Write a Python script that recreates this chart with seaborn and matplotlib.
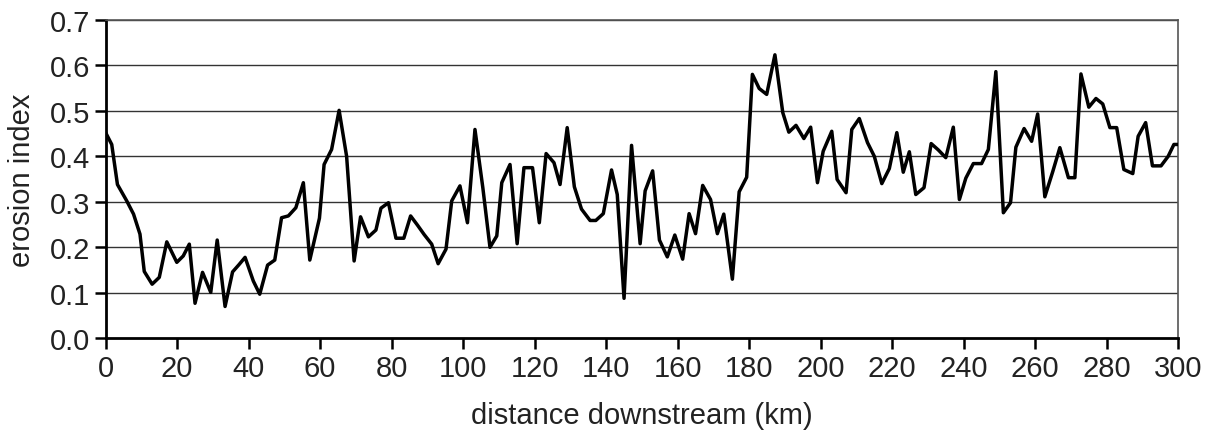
import matplotlib
matplotlib.use("Agg")
import matplotlib.pyplot as plt
import seaborn as sns
import pandas as pd

distance_km = [
    0.0, 1.7, 3.3, 5.9, 7.8, 9.6, 10.8, 13.0, 15.0, 17.1, 19.9, 21.7, 23.4, 25.0,
    27.1, 29.4, 31.2, 33.4, 35.5, 37.3, 39.0, 41.3, 43.1, 45.3, 47.3, 49.2, 51.1,
    53.2, 55.3, 57.1, 59.8, 61.1, 63.2, 65.3, 67.4, 69.5, 71.3, 73.5, 75.6, 77.0,
    79.1, 81.2, 83.4, 85.3, 87.2, 89.1, 91.2, 93.0, 95.2, 96.8, 99.1, 101.2, 103.3,
    105.5, 107.5, 109.4, 110.8, 113.1, 115.1, 117.0, 119.4, 121.3, 123.2, 125.4,
    127.1, 129.1, 131.1, 133.1, 135.5, 137.1, 139.2, 141.5, 143.1, 145.0, 147.1,
    149.5, 150.9, 153.0, 154.9, 157.1, 159.2, 161.4, 163.2, 165.0, 167.0, 169.2,
    171.1, 172.9, 175.3, 177.2, 179.3, 180.9, 182.8, 184.9, 187.2, 189.4, 191.1,
    193.1, 195.3, 197.2, 199.1, 200.7, 203.1, 204.6, 207.1, 208.7, 210.8, 213.1,
    215.0, 217.1, 219.2, 221.3, 223.1, 224.8, 226.6, 228.9, 230.9, 232.9, 235.0,
    237.1, 238.8, 240.6, 242.7, 245.0, 246.9, 249.0, 251.1, 253.1, 254.6, 256.9,
    259.0, 260.7, 262.7, 264.9, 266.9, 269.3, 271.1, 272.8, 275.0, 277.0, 278.9,
    280.9, 282.8, 284.8, 287.3, 288.8, 290.9, 292.8, 295.2, 297.2, 298.8, 300.0,
]

erosion_index = [
    0.452, 0.426, 0.338, 0.302, 0.273, 0.229, 0.147, 0.119, 0.134, 0.212, 0.167,
    0.181, 0.207, 0.077, 0.145, 0.101, 0.216, 0.070, 0.146, 0.162, 0.178, 0.126,
    0.097, 0.161, 0.172, 0.265, 0.269, 0.287, 0.342, 0.172, 0.264, 0.382, 0.415,
    0.501, 0.400, 0.170, 0.267, 0.223, 0.238, 0.286, 0.298, 0.220, 0.220, 0.269,
    0.249, 0.228, 0.207, 0.164, 0.196, 0.302, 0.335, 0.254, 0.459, 0.331, 0.200,
    0.225, 0.342, 0.382, 0.208, 0.375, 0.375, 0.254, 0.406, 0.386, 0.338, 0.463,
    0.333, 0.284, 0.259, 0.259, 0.274, 0.370, 0.316, 0.088, 0.424, 0.208, 0.324,
    0.368, 0.216, 0.179, 0.227, 0.174, 0.274, 0.230, 0.336, 0.305, 0.230, 0.273,
    0.130, 0.322, 0.354, 0.580, 0.549, 0.536, 0.623, 0.496, 0.453, 0.468, 0.439,
    0.464, 0.342, 0.411, 0.455, 0.349, 0.320, 0.459, 0.483, 0.430, 0.400, 0.340,
    0.373, 0.452, 0.365, 0.410, 0.316, 0.331, 0.428, 0.414, 0.397, 0.464, 0.305,
    0.352, 0.384, 0.384, 0.415, 0.586, 0.276, 0.298, 0.420, 0.461, 0.433, 0.493,
    0.311, 0.366, 0.419, 0.353, 0.353, 0.581, 0.508, 0.527, 0.515, 0.463, 0.463,
    0.371, 0.362, 0.444, 0.474, 0.379, 0.379, 0.400, 0.426, 0.426,
]

x_ticks = list(range(0, 301, 20))
y_ticks = [0.0, 0.1, 0.2, 0.3, 0.4, 0.5, 0.6, 0.7]

df = pd.DataFrame({"distance": distance_km, "erosion": erosion_index})

sns.set_style("white")
plt.rcParams["font.family"] = ["Liberation Sans", "DejaVu Sans"]

fig = plt.figure(figsize=(12.13, 4.39), dpi=100)
ax = fig.add_axes([0.0871, 0.227, 0.8842, 0.7257])

for y in y_ticks[1:]:
    ax.axhline(y, color="#333333", lw=1.0, zorder=1)

sns.lineplot(data=df, x="distance", y="erosion", ax=ax, color="black",
             lw=2.5, sort=False, zorder=3)

ax.set_xlim(0, 300)
ax.set_ylim(0, 0.7)
ax.set_xticks(x_ticks)
ax.set_yticks(y_ticks)
ax.set_yticklabels([f"{v:.1f}" for v in y_ticks])
ax.tick_params(axis="both", direction="out", length=8, width=1.8,
               color="black", labelsize=21, labelcolor="#222222", pad=3,
               bottom=True, left=True)

for side in ["left", "bottom"]:
    ax.spines[side].set_color("black")
    ax.spines[side].set_linewidth(2.0)
for side in ["right", "top"]:
    ax.spines[side].set_visible(True)
    ax.spines[side].set_color("#555555")
    ax.spines[side].set_linewidth(1.2)

ax.set_xlabel("distance downstream (km)", fontsize=21, color="#222222", labelpad=14)
ax.set_ylabel("erosion index", fontsize=21, color="#222222", labelpad=10)

fig.savefig("out.png", dpi=100)
